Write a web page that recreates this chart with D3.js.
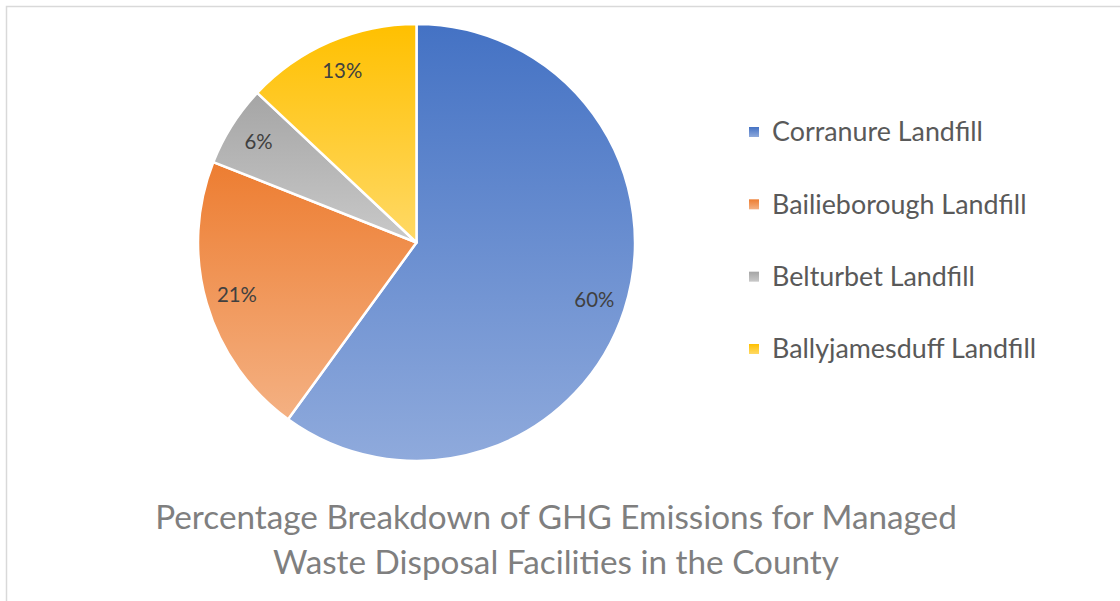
<!DOCTYPE html>
<html>
<head>
<meta charset="utf-8">
<script src="https://cdn.jsdelivr.net/npm/d3@7"></script>
<style>
  html, body { margin: 0; padding: 0; background: #fff; }
  svg { display: block; }
</style>
</head>
<body>
<svg id="chart" width="1120" height="601"></svg>
<script>
const categories = ["Corranure Landfill", "Bailieborough Landfill", "Belturbet Landfill", "Ballyjamesduff Landfill"];
const values = [60, 21, 6, 13];
const baseColors = ["#4472C4", "#ED7D31", "#A5A5A5", "#FFC000"];
const lightColors = ["#8FAADC", "#F4B183", "#C9C9C9", "#FFD966"];
const titleLines = ["Percentage Breakdown of GHG Emissions for Managed", "Waste Disposal Facilities in the County"];

const FONT = "Lato, 'Open Sans', sans-serif";
const svg = d3.select("#chart");
const W = 1120, H = 601;

// chart frame
svg.append("rect")
  .attr("x", 6.5).attr("y", 6.5)
  .attr("width", W + 20).attr("height", H + 20)
  .attr("fill", "#fff").attr("stroke", "#D9D9D9").attr("stroke-width", 1.5);

// gradients
const defs = svg.append("defs");
categories.forEach((c, i) => {
  const g = defs.append("linearGradient")
    .attr("id", "grad" + i)
    .attr("x1", 0).attr("y1", 0).attr("x2", 0).attr("y2", 1);
  g.append("stop").attr("offset", "0%").attr("stop-color", baseColors[i]);
  g.append("stop").attr("offset", "100%").attr("stop-color", lightColors[i]);
});

// fit a text's font size so its rendered width equals a target width
function fitSize(str, targetWidth) {
  const probe = svg.append("text").attr("font-family", FONT).attr("font-size", 100).text(str);
  const w = probe.node().getComputedTextLength();
  probe.remove();
  return 100 * targetWidth / w;
}
const legendSize = fitSize(categories[0], 211);
const titleSize = fitSize(titleLines[0], 802);
const labelSize = fitSize("60%", 40);

const cx = 416.5, cy = 242.5, R = 218.5;
const pie = d3.pie().sort(null).value(d => d)(values);
const arc = d3.arc().innerRadius(0).outerRadius(R);
const labelArc = d3.arc().innerRadius(187).outerRadius(187);

const gPie = svg.append("g").attr("transform", `translate(${cx},${cy})`);
gPie.selectAll("path.slice")
  .data(pie)
  .join("path")
  .attr("class", "slice")
  .attr("d", arc)
  .attr("fill", (d, i) => `url(#grad${i})`)
  .attr("stroke", "#fff")
  .attr("stroke-width", 2.5)
  .attr("stroke-linejoin", "round");

const total = d3.sum(values);
gPie.selectAll("text.lbl")
  .data(pie)
  .join("text")
  .attr("class", "lbl")
  .attr("transform", d => `translate(${labelArc.centroid(d)})`)
  .attr("text-anchor", "middle")
  .attr("dy", "0.35em")
  .attr("font-family", FONT)
  .attr("font-size", labelSize)
  .attr("fill", "#404040")
  .text(d => Math.round(d.data / total * 100) + "%");

// legend
const ly = d3.scalePoint().domain(categories).range([132, 349]);
const leg = svg.append("g");
const items = leg.selectAll("g").data(categories).join("g")
  .attr("transform", d => `translate(749,${ly(d)})`);
items.append("rect")
  .attr("x", 0).attr("y", -5).attr("width", 10).attr("height", 10)
  .attr("fill", (d, i) => `url(#grad${i})`);
items.append("text")
  .attr("x", 23).attr("dy", "0.35em")
  .attr("font-family", FONT)
  .attr("font-size", legendSize)
  .attr("fill", "#595959")
  .text(d => d);

// title
svg.append("g").selectAll("text").data(titleLines).join("text")
  .attr("x", 556)
  .attr("y", (d, i) => 517 + i * 45)
  .attr("dy", "0.35em")
  .attr("text-anchor", "middle")
  .attr("font-family", FONT)
  .attr("font-size", titleSize)
  .attr("fill", "#7F7F7F")
  .text(d => d);
</script>
</body>
</html>
